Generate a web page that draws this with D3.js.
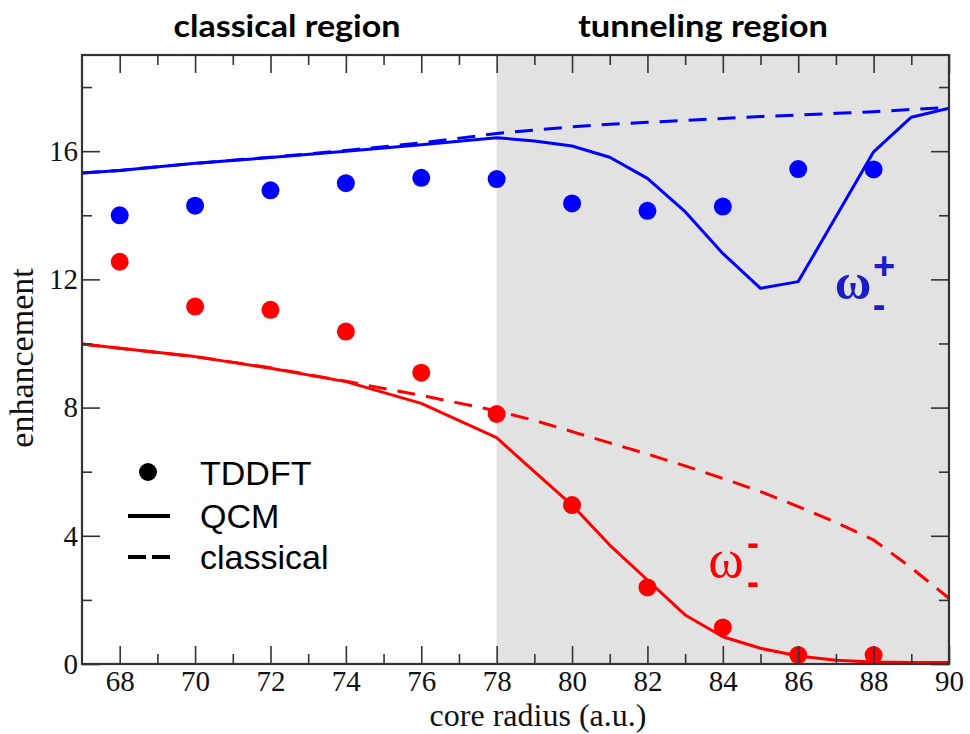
<!DOCTYPE html>
<html><head><meta charset="utf-8">
<script src="https://cdn.jsdelivr.net/npm/d3@7"></script>
<style>body{margin:0;background:#fff}svg{display:block}</style>
</head><body>
<svg id="c" width="970" height="734"></svg>
<script>
// ---- data ----
const tddftX     = [68, 70, 72, 74, 76, 78, 80, 82, 84, 86, 88];
const tddftPlus  = [14.0, 14.3, 14.78, 15.0, 15.17, 15.13, 14.37, 14.14, 14.27, 15.44, 15.43];
const tddftMinus = [12.55, 11.15, 11.05, 10.37, 9.09, 7.8, 4.96, 2.39, 1.14, 0.28, 0.28];

const qcmX     = [67, 68, 70, 72, 74, 76, 78, 79, 80, 81, 82, 83, 84, 85, 86, 87, 88, 89, 90];
const qcmPlus  = [15.32, 15.4, 15.62, 15.8, 16.0, 16.2, 16.42, 16.32, 16.16, 15.81, 15.15, 14.11, 12.81, 11.72, 11.93, 13.95, 15.98, 17.06, 17.34];
const qcmMinus = [9.98, 9.85, 9.59, 9.23, 8.81, 8.13, 7.06, 6.0, 4.96, 3.71, 2.62, 1.53, 0.85, 0.49, 0.25, 0.12, 0.06, 0.05, 0.05];

const classX     = [67, 68, 70, 72, 74, 76, 78, 79, 80, 81, 82, 83, 84, 85, 86, 87, 88, 89, 90];
const classPlus  = [15.32, 15.4, 15.62, 15.81, 16.02, 16.26, 16.55, 16.66, 16.76, 16.84, 16.9, 16.96, 17.02, 17.08, 17.13, 17.18, 17.23, 17.3, 17.37];
const classMinus = [9.98, 9.85, 9.59, 9.24, 8.82, 8.38, 7.9, 7.6, 7.25, 6.9, 6.55, 6.18, 5.79, 5.38, 4.91, 4.42, 3.87, 3.0, 2.05];

const xMajor = [68, 70, 72, 74, 76, 78, 80, 82, 84, 86, 88, 90];
const xMinor = [69, 71, 73, 75, 77, 79, 81, 83, 85, 87, 89];
const yMajor = [0, 4, 8, 12, 16];
const yMinor = [2, 6, 10, 14, 18];
const regionTitles = ["classical region", "tunneling region"];
const legendLabels = ["TDDFT", "QCM", "classical"];
const tunnelStart = 78;

// ---- layout ----
const L = 82, R = 949, T = 55, B = 664;
const svg = d3.select("#c");
const x = d3.scaleLinear().domain([67, 90]).range([L, R]);
const y = d3.scaleLinear().domain([0, 19]).range([B, T]);
const BLUE = "#0000ff", RED = "#ff0000", AX = "#333";

// background regions
svg.append("rect").attr("x", L).attr("y", T).attr("width", x(tunnelStart) - L).attr("height", B - T).attr("fill", "#fdfdfd");
svg.append("rect").attr("x", x(tunnelStart)).attr("y", T).attr("width", R - x(tunnelStart)).attr("height", B - T).attr("fill", "#e2e2e2");

svg.append("clipPath").attr("id", "clip").append("rect").attr("x", L).attr("y", T).attr("width", R - L).attr("height", B - T);
const plot = svg.append("g").attr("clip-path", "url(#clip)");

const line = d3.line().x(d => x(d[0])).y(d => y(d[1]));
function drawLine(xsArr, vals, color, dashed) {
  plot.append("path").datum(xsArr.map((v, i) => [v, vals[i]]))
    .attr("d", line).attr("fill", "none").attr("stroke", color)
    .attr("stroke-width", 3).attr("stroke-linejoin", "round")
    .attr("stroke-dasharray", dashed ? "18,11" : null);
}
drawLine(classX, classPlus, BLUE, true);
drawLine(qcmX, qcmPlus, BLUE, false);
drawLine(classX, classMinus, RED, true);
drawLine(qcmX, qcmMinus, RED, false);

function drawDots(vals, color) {
  plot.append("g").selectAll("circle").data(tddftX.map((v, i) => [v, vals[i]])).join("circle")
    .attr("cx", d => x(d[0])).attr("cy", d => y(d[1])).attr("r", 9).attr("fill", color);
}
drawDots(tddftPlus, BLUE);
drawDots(tddftMinus, RED);

// ---- axes ----
function styleAxis(g) {
  g.select(".domain").remove();
  g.selectAll(".tick line").attr("stroke", AX).attr("stroke-width", 1.6);
  g.selectAll("text").attr("font-family", "Liberation Serif, serif").attr("font-size", 29).attr("fill", "#111");
}
svg.append("g").attr("transform", `translate(0,${B})`)
  .call(d3.axisBottom(x).tickValues(xMajor).tickSize(-18).tickSizeOuter(0).tickPadding(6)).call(styleAxis);
svg.append("g").attr("transform", `translate(0,${B})`)
  .call(d3.axisBottom(x).tickValues(xMinor).tickSize(-10).tickFormat("")).call(styleAxis);
svg.append("g").attr("transform", `translate(0,${T})`)
  .call(d3.axisTop(x).tickValues(xMajor).tickSize(-18).tickFormat("")).call(styleAxis);
svg.append("g").attr("transform", `translate(0,${T})`)
  .call(d3.axisTop(x).tickValues(xMinor).tickSize(-10).tickFormat("")).call(styleAxis);
svg.append("g").attr("transform", `translate(${L},0)`)
  .call(d3.axisLeft(y).tickValues(yMajor).tickSize(-18).tickPadding(4)).call(styleAxis);
svg.append("g").attr("transform", `translate(${L},0)`)
  .call(d3.axisLeft(y).tickValues(yMinor).tickSize(-10).tickFormat("")).call(styleAxis);
svg.append("g").attr("transform", `translate(${R},0)`)
  .call(d3.axisRight(y).tickValues(yMajor).tickSize(-18).tickFormat("")).call(styleAxis);
svg.append("g").attr("transform", `translate(${R},0)`)
  .call(d3.axisRight(y).tickValues(yMinor).tickSize(-10).tickFormat("")).call(styleAxis);

svg.append("rect").attr("x", L).attr("y", T).attr("width", R - L).attr("height", B - T)
  .attr("fill", "none").attr("stroke", AX).attr("stroke-width", 2.2);

// axis titles
svg.append("text").attr("x", 538).attr("y", 726).attr("text-anchor", "middle")
  .attr("font-family", "Liberation Serif, serif").attr("font-size", 32).attr("fill", "#111")
  .text("core radius (a.u.)");
svg.append("text").attr("transform", "translate(33,358) rotate(-90)").attr("text-anchor", "middle")
  .attr("font-family", "Liberation Serif, serif").attr("font-size", 34).attr("fill", "#111")
  .text("enhancement");

// region titles
[[287, 227], [703, 250]].forEach((p, i) => {
  svg.append("text").attr("x", p[0]).attr("y", 37).attr("text-anchor", "middle")
    .attr("font-family", "Lato, sans-serif").attr("font-weight", "bold").attr("font-size", 31)
    .attr("textLength", p[1]).attr("lengthAdjust", "spacingAndGlyphs").attr("fill", "#000")
    .text(regionTitles[i]);
});

// omega labels
const om = svg.append("g").attr("font-family", "Liberation Serif, serif");
om.append("text").attr("x", 853).attr("y", 299).attr("text-anchor", "middle").attr("font-size", 50)
  .attr("font-weight", "bold").attr("fill", "#1c1cc8").text("ω");
om.append("text").attr("x", 884).attr("y", 279).attr("text-anchor", "middle").attr("font-size", 38)
  .attr("font-weight", "bold").attr("fill", "#1c1cc8").attr("font-family", "Liberation Sans, sans-serif").text("+");
om.append("text").attr("x", 879).attr("y", 318).attr("text-anchor", "middle").attr("font-size", 38)
  .attr("font-weight", "bold").attr("fill", "#1c1cc8").attr("font-family", "Liberation Sans, sans-serif").text("-");
om.append("text").attr("x", 726).attr("y", 577).attr("text-anchor", "middle").attr("font-size", 54)
  .attr("fill", RED).text("ω");
om.append("text").attr("x", 753).attr("y", 555).attr("text-anchor", "middle").attr("font-size", 36)
  .attr("font-weight", "bold").attr("fill", RED).attr("font-family", "Liberation Sans, sans-serif").text("-");
om.append("text").attr("x", 753).attr("y", 594).attr("text-anchor", "middle").attr("font-size", 36)
  .attr("font-weight", "bold").attr("fill", RED).attr("font-family", "Liberation Sans, sans-serif").text("-");

// legend
const lg = svg.append("g");
lg.append("circle").attr("cx", 148).attr("cy", 472).attr("r", 9).attr("fill", "#000");
lg.append("line").attr("x1", 128).attr("x2", 170).attr("y1", 516).attr("y2", 516).attr("stroke", "#000").attr("stroke-width", 4);
lg.append("line").attr("x1", 128).attr("x2", 170).attr("y1", 557).attr("y2", 557).attr("stroke", "#000").attr("stroke-width", 4).attr("stroke-dasharray", "18,6");
[485, 528, 569].forEach((yy, i) => {
  lg.append("text").attr("x", 200).attr("y", yy).attr("font-family", "Liberation Sans, sans-serif")
    .attr("font-size", 34).attr("fill", "#000").text(legendLabels[i]);
});
</script>
</body></html>
